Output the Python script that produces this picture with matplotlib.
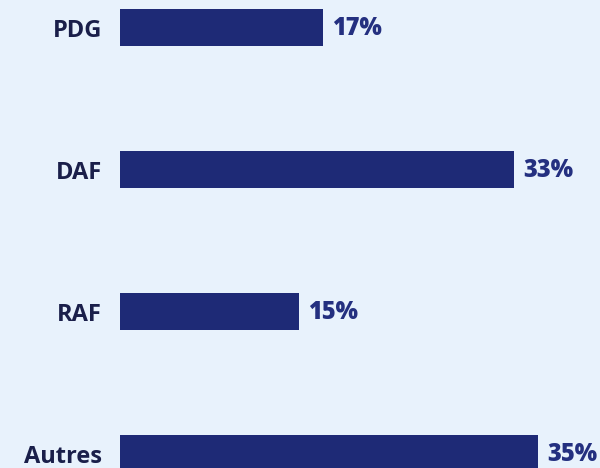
import matplotlib.pyplot as plt

# Données
categories = ["PDG", "DAF", "RAF", "Autres"]
values = [17, 33, 15, 35]
value_labels = ["17%", "33%", "15%", "35%"]

bg = "#e8f2fc"
bar_color = "#1e2a76"
value_color = "#243080"
label_color = "#1a1f4a"

plt.rcParams["font.family"] = ["Open Sans", "DejaVu Sans"]

fig = plt.figure(figsize=(6, 4.68), dpi=100, facecolor=bg)
ax = fig.add_axes([0.2, 0, 0.8, 1])
ax.set_facecolor(bg)

y = list(range(len(categories)))
ax.barh(y, values, height=0.26, color=bar_color)

for yi, v, lab, cat in zip(y, values, value_labels, categories):
    # valeur à droite de la barre
    ax.annotate(lab, (v, yi), xytext=(6.5, -1), textcoords="offset points",
                va="center", ha="left", fontsize=17, fontweight="heavy",
                color=value_color, annotation_clip=False)
    # libellé à gauche
    ax.annotate(cat, (0, yi), xytext=(-13, -2.2), textcoords="offset points",
                va="center", ha="right", fontsize=17, fontweight="bold",
                color=label_color, annotation_clip=False)

ax.set_xticks([])
ax.set_yticks([])
ax.set_xlim(0, 40.2)
ax.set_ylim(3.102, -0.194)
for s in ax.spines.values():
    s.set_visible(False)

fig.savefig("out.png", dpi=100, facecolor=bg)
